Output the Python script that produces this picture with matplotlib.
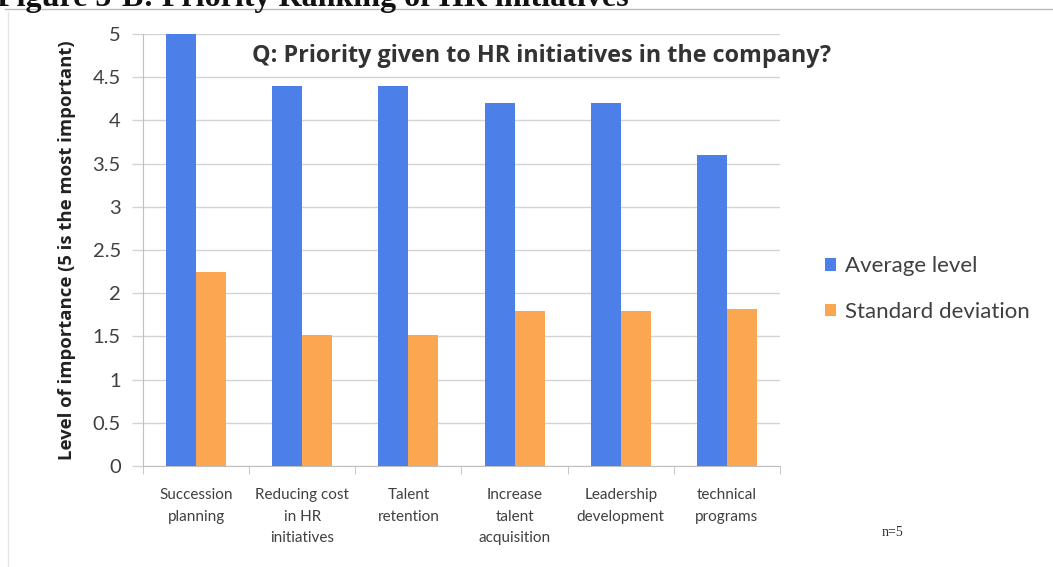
import matplotlib
matplotlib.use("Agg")
import matplotlib.pyplot as plt
from matplotlib.lines import Line2D
import numpy as np

categories = ["Succession\nplanning", "Reducing cost\nin HR\ninitiatives", "Talent\nretention",
              "Increase\ntalent\nacquisition", "Leadership\ndevelopment", "technical\nprograms"]
average_level = [5.0, 4.4, 4.4, 4.2, 4.2, 3.6]
standard_deviation = [2.24, 1.52, 1.52, 1.79, 1.79, 1.82]
y_ticks = [0, 0.5, 1, 1.5, 2, 2.5, 3, 3.5, 4, 4.5, 5]
y_tick_labels = ["0", "0.5", "1", "1.5", "2", "2.5", "3", "3.5", "4", "4.5", "5"]

BLUE = "#4D7FE8"
ORANGE = "#FBA650"
GRID = "#D4D4D4"
TEXT = "#404040"
FONT = ["Lato", "DejaVu Sans"]
BOLD_FONT = ["Open Sans", "DejaVu Sans"]

fig = plt.figure(figsize=(10.53, 5.67), dpi=100)
fig.patch.set_facecolor("white")

# page heading above the chart, clipped by the top edge
fig.text(-0.003, 1 - 6 / 567, "Figure 5-B: Priority Ranking of HR initiatives",
         family=["Liberation Serif"], fontweight="bold", fontsize=23,
         va="baseline", ha="left", color="#111111")
fig.add_artist(Line2D([5 / 1053, 1.0], [1 - 9 / 567, 1 - 9 / 567],
                      transform=fig.transFigure, color="#BBBBBB", lw=1))
fig.add_artist(Line2D([8 / 1053, 8 / 1053], [1 - 12 / 567, 0.0],
                      transform=fig.transFigure, color="#E6E6E6", lw=1))

ax = fig.add_axes([143 / 1053, 1 - 466 / 567, (780 - 143) / 1053, (466 - 34) / 567])

x = np.arange(len(categories))
w = 0.283
ax.bar(x - w / 2, average_level, width=w, color=BLUE, label="Average level", zorder=3)
ax.bar(x + w / 2, standard_deviation, width=w, color=ORANGE, label="Standard deviation", zorder=3)

ax.set_xlim(-0.5, len(categories) - 0.5)
ax.set_ylim(0, 5)
ax.set_yticks(y_ticks)
ax.set_yticklabels(y_tick_labels, family=FONT, fontsize=14.5, color=TEXT)
ax.yaxis.grid(True, color=GRID, lw=1, zorder=0)
ax.tick_params(axis="y", length=8, width=1, color=GRID, pad=8)

ax.set_xticks(x)
ax.set_xticklabels(categories, family=FONT, fontsize=11, color=TEXT, linespacing=1.68)
ax.tick_params(axis="x", length=0, pad=16)
ax.set_xticks(np.arange(len(categories) + 1) - 0.5, minor=True)
ax.tick_params(axis="x", which="minor", length=6, color="#BFBFBF")

for side in ("top", "right"):
    ax.spines[side].set_visible(False)
ax.spines["left"].set_color("#BFBFBF")
ax.spines["bottom"].set_color("#BFBFBF")

ax.set_ylabel("Level of importance (5 is the most important)", family=BOLD_FONT,
              fontsize=13.3, fontweight="bold", color="#222222", labelpad=12)

fig.text(252 / 1053, 1 - 56 / 567, "Q: Priority given to HR initiatives in the company?",
         family=BOLD_FONT, fontsize=16.8, fontweight="bold", color="#333333",
         ha="left", va="center")

leg = fig.legend(loc="center left", bbox_to_anchor=(805 / 1053, 1 - 289 / 567),
                 frameon=False, prop={"family": FONT, "size": 16},
                 handlelength=0.5, handleheight=0.5, handletextpad=0.4,
                 labelspacing=1.15)
for t in leg.get_texts():
    t.set_color(TEXT)

fig.text(893 / 1053, 1 - 532 / 567, "n=5", family=["Liberation Serif"], fontsize=10,
         color="#333333", ha="center", va="center")

fig.savefig("out.png", dpi=100, facecolor="white")
